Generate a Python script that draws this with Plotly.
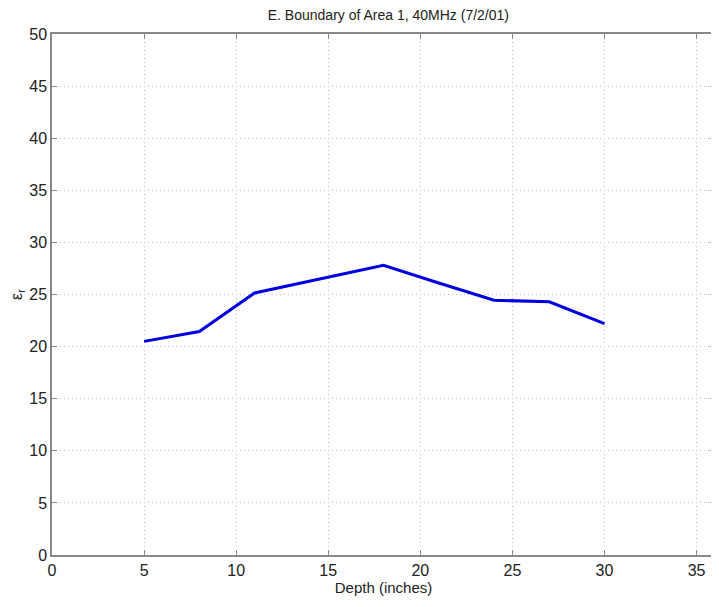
import plotly.graph_objects as go

depth = [5, 8, 11, 15, 18, 21, 24, 27, 30]
eps_r = [20.5, 21.45, 25.15, 26.7, 27.8, 26.1, 24.45, 24.3, 22.2]

x_ticks = [0, 5, 10, 15, 20, 25, 30, 35]
y_ticks = [0, 5, 10, 15, 20, 25, 30, 35, 40, 45, 50]

fnt = "Liberation Sans, Arial"

fig = go.Figure()
fig.add_trace(go.Scatter(x=depth, y=eps_r, mode="lines",
                         line=dict(color="#0000e0", width=3), showlegend=False))

axis_common = dict(
    showline=True, linecolor="#888888", linewidth=1.5, mirror="ticks",
    ticks="inside", ticklen=5, tickcolor="#888888",
    showgrid=True, gridcolor="#bdbdbd", griddash="1px,3px", gridwidth=1,
    zeroline=False, automargin=False,
    tickfont=dict(family=fnt, size=16, color="#222"),
)

fig.update_layout(
    width=711, height=599,
    margin=dict(l=44, r=4, t=26, b=52),
    paper_bgcolor="white", plot_bgcolor="white",
    title=dict(text="E. Boundary of Area 1, 40MHz (7/2/01)", x=0.535, xanchor="center",
               y=0.988, yanchor="middle",
               font=dict(family=fnt, size=14, color="#222")),
    xaxis=dict(range=[0, 36], tickvals=x_ticks, title=dict(text="Depth (inches)", standoff=2,
               font=dict(family=fnt, size=15, color="#222")), **axis_common),
    yaxis=dict(range=[0, 50], tickvals=y_ticks, title=dict(text="ε<sub>r</sub>", standoff=4,
               font=dict(family=fnt, size=16, color="#222")), **axis_common),
)

fig.write_html("out.html")
